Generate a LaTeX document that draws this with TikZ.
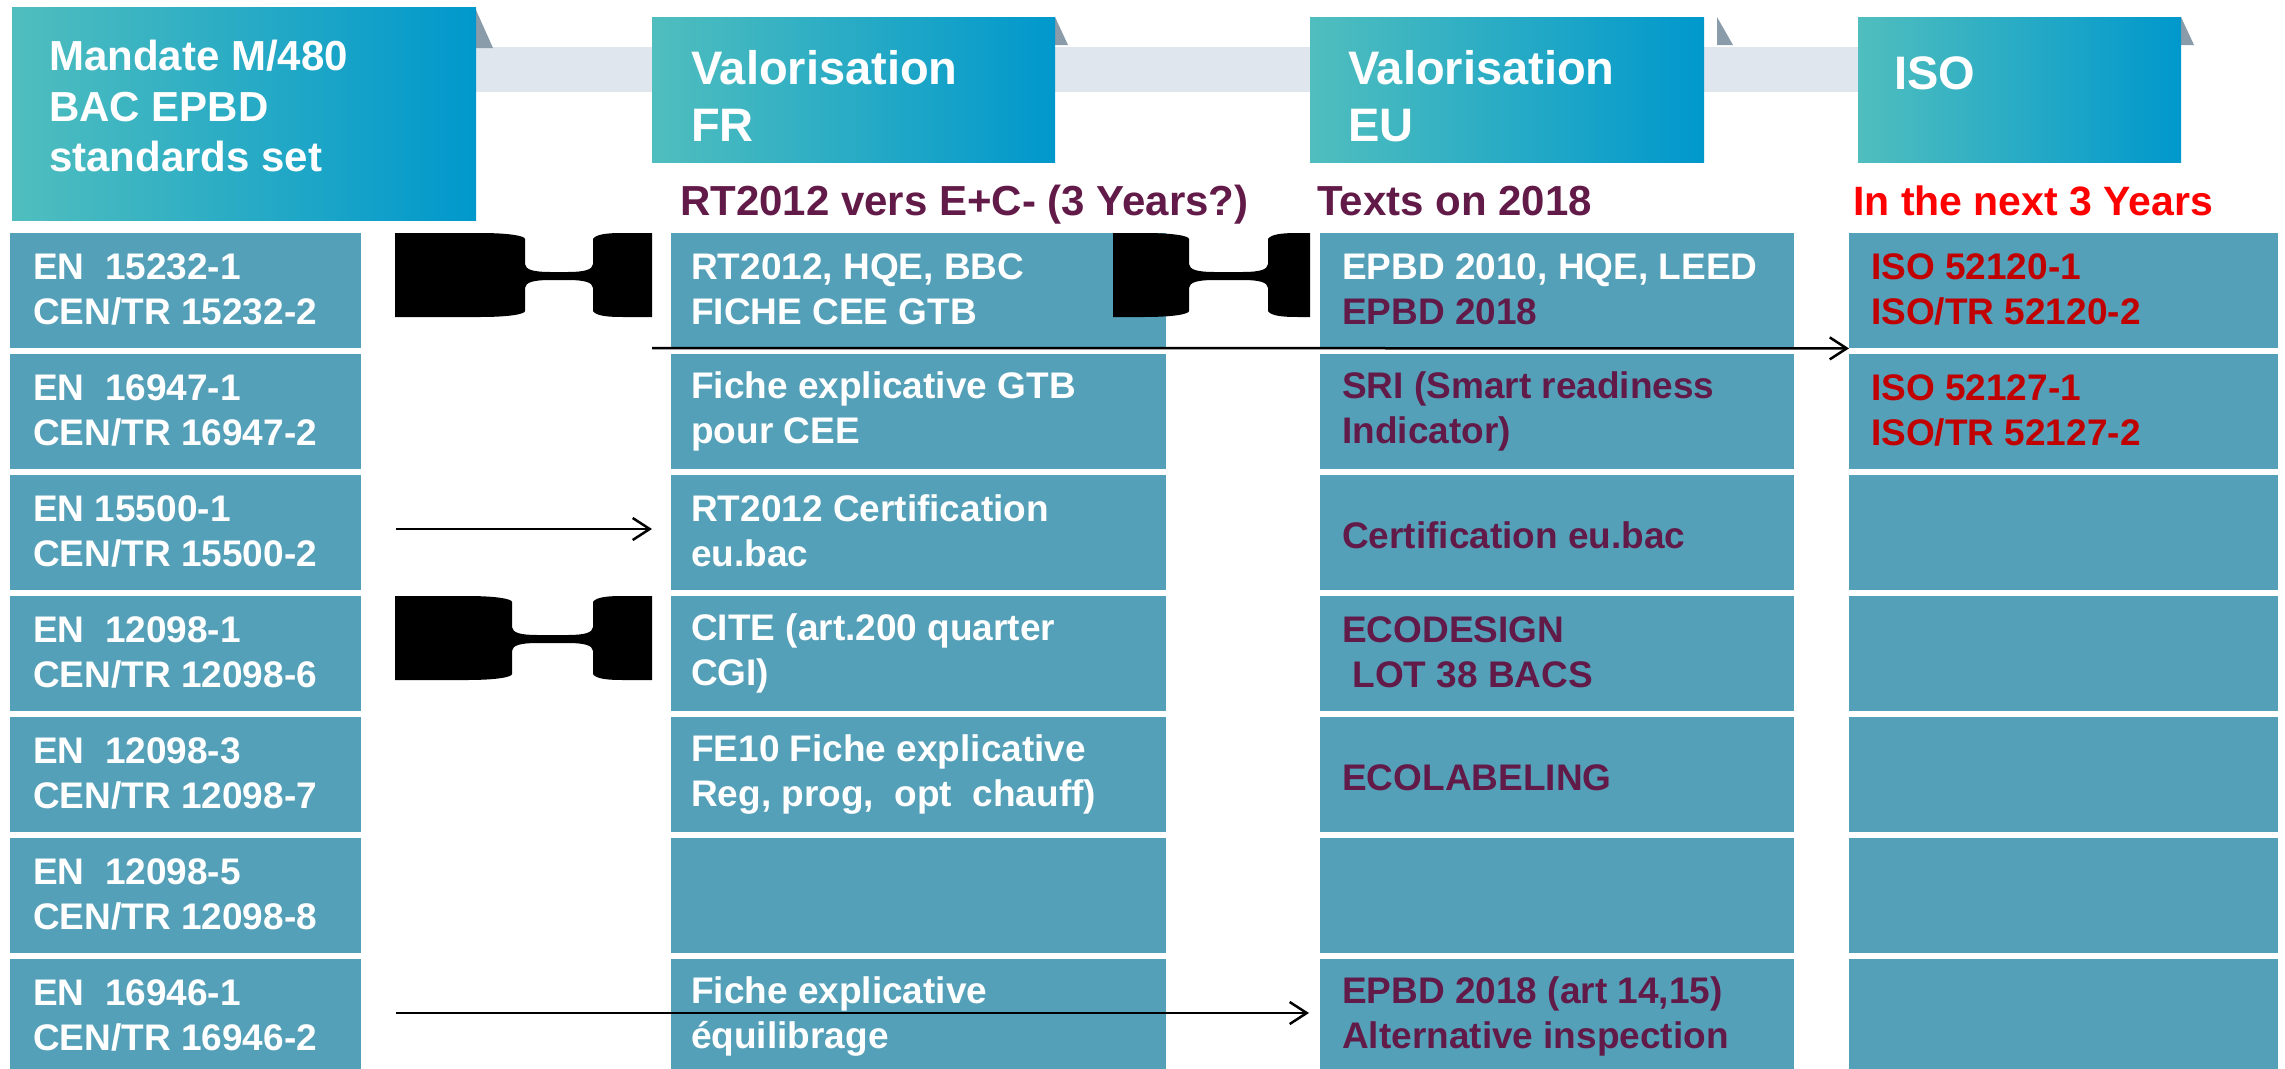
\documentclass[tikz,border=0pt]{standalone}
\usepackage{fontspec}
\setmainfont{Liberation Sans}
\usetikzlibrary{arrows.meta, calc}

\definecolor{cellblue}{RGB}{84,160,184}
\definecolor{plum}{RGB}{98,27,72}
\definecolor{isored}{RGB}{192,0,0}
\definecolor{bandgrey}{RGB}{223,230,237}
\definecolor{tipgrey}{RGB}{138,155,170}
\definecolor{hdleft}{RGB}{80,190,190}
\definecolor{hdmid}{RGB}{0,155,152}
\definecolor{hdright}{RGB}{0,152,204}

\newcommand{\topstrut}{\rule{0pt}{36pt}}
\newcommand{\botstrut}{\rule[-4pt]{0pt}{4pt}}

% black double link: outer left x, inner left x, inner right x, outer right x, top y
\newcommand{\bonelink}[5]{%
  \fill (#1,#5) -- (#2-45,#5) .. controls (#2-15,#5) and (#2,#5+3) .. (#2,#5+6)
    -- (#2,#5+31) .. controls (#2,#5+37) and (#2+10,#5+39) .. (#2+25,#5+39)
    -- (#3-25,#5+39) .. controls (#3-10,#5+39) and (#3,#5+37) .. (#3,#5+31)
    -- (#3,#5+6) .. controls (#3+3,#5+1) and (#3+15,#5) .. (#3+30,#5)
    -- (#4,#5) -- (#4,#5+84) -- (#3+30,#5+84)
    .. controls (#3+15,#5+84) and (#3+3,#5+83) .. (#3,#5+78)
    -- (#3,#5+55) .. controls (#3,#5+49) and (#3-10,#5+47) .. (#3-25,#5+47)
    -- (#2+25,#5+47) .. controls (#2+10,#5+47) and (#2,#5+49) .. (#2,#5+55)
    -- (#2,#5+78) .. controls (#2,#5+81) and (#2-15,#5+84) .. (#2-45,#5+84)
    -- (#1,#5+84) -- cycle;}

\tikzset{
  head/.style={anchor=north west, inner sep=0pt, left color=hdleft, middle color=hdmid, right color=hdright},
  headtext/.style={anchor=north west, inner sep=0pt, align=left, text=white,
    font=\fontsize{47}{57}\selectfont\bfseries, execute at begin node=\rule{0pt}{40pt}},
  subhead/.style={anchor=base west, inner sep=0pt, text=plum, font=\fontsize{42}{50}\selectfont\bfseries},
  cell/.style={anchor=north west, inner sep=0pt, fill=cellblue, minimum height=115pt},
  celltext/.style={anchor=west, inner sep=0pt, align=left, font=\fontsize{37}{45}\selectfont\bfseries,
    execute at begin node=\topstrut, execute at end node=\botstrut},
  link/.style={->, line width=2.5pt}
}

\begin{document}
\begin{tikzpicture}[x=1pt, y=-1pt, >={Straight Barb[length=17pt,width=22pt]}]
  \useasboundingbox (0,0) rectangle (2285,1068);
  \clip (0,0) rectangle (2285,1068);

  % timeline band
  \fill[bandgrey] (476,47) rectangle (1858,92);
  \fill[tipgrey] (476,10) -- (476,48) -- (493,48) -- cycle;
  \fill[tipgrey] (1055,17) -- (1055,45) -- (1068,45) -- cycle;
  \fill[tipgrey] (1717,17) -- (1717,45) -- (1733,45) -- cycle;
  \fill[tipgrey] (2181,17) -- (2181,45) -- (2194,45) -- cycle;

  \node[head, minimum width=464pt, minimum height=213pt] (hdm) at (12,7) {};
  \node[head, minimum width=403pt, minimum height=145pt] (hdfr) at (652,17) {};
  \node[head, minimum width=394pt, minimum height=145pt] (hdeu) at (1310,17) {};
  \node[head, minimum width=323pt, minimum height=145pt] (hdiso) at (1858,17) {};

  \node[headtext, font=\fontsize{42}{50.5}\selectfont\bfseries] (hdmt) at (49,40) {Mandate M/480\\BAC EPBD\\standards set};
  \node[headtext] (hdfrt) at (691,50) {Valorisation\\FR};
  \node[headtext] (hdeut) at (1348,50) {Valorisation\\EU};
  \node[headtext] (hdisot) at (1894,49) {ISO};

  \node[subhead] (subfr) at (680,215) {RT2012 vers E+C- (3 Years?)};
  \node[subhead] (subeu) at (1317,215) {Texts on 2018};
  \node[subhead, text=red, font=\fontsize{41}{49}\selectfont\bfseries] (subiso) at (1853,215) {In the next 3 Years};

  % one row per standard
  \foreach \r/\ta/\tb/\tc/\td in {
      1/{EN\ \ 15232-1\\CEN/TR 15232-2}/{RT2012, HQE, BBC\\FICHE CEE GTB}/{\textcolor{white}{EPBD 2010, HQE, LEED}\\EPBD 2018}/{ISO 52120-1\\ISO/TR 52120-2},
      2/{EN\ \ 16947-1\\CEN/TR 16947-2}/{Fiche explicative GTB\\pour CEE}/{SRI (Smart readiness\\Indicator)}/{ISO 52127-1\\ISO/TR 52127-2},
      3/{EN 15500-1\\CEN/TR 15500-2}/{RT2012 Certification\\eu.bac}/{Certification eu.bac}/{},
      4/{EN\ \ 12098-1\\CEN/TR 12098-6}/{CITE (art.200 quarter\\CGI)}/{ECODESIGN\\\ LOT 38 BACS}/{},
      5/{EN\ \ 12098-3\\CEN/TR 12098-7}/{FE10 Fiche explicative\\Reg, prog,\ \ opt\ \ chauff)}/{ECOLABELING}/{},
      6/{EN\ \ 12098-5\\CEN/TR 12098-8}/{}/{}/{},
      7/{EN\ \ 16946-1\\CEN/TR 16946-2}/{Fiche explicative\\équilibrage}/{EPBD 2018 (art 14,15)\\Alternative inspection}/{}} {
    \pgfmathsetmacro{\rowy}{233+121*(\r-1)}
    \node[cell, minimum width=351pt] (c1r\r) at (10,\rowy) {};
    \node[cell, minimum width=495pt] (c2r\r) at (671,\rowy) {};
    \node[cell, minimum width=474pt] (c3r\r) at (1320,\rowy) {};
    \node[cell, minimum width=429pt] (c4r\r) at (1849,\rowy) {};
    \node[celltext, text=white] (t1r\r) at ($(c1r\r.west)+(23,0)$) {\ta};
    \node[celltext, text=white] (t2r\r) at ($(c2r\r.west)+(20,0)$) {\tb};
    \node[celltext, text=plum] (t3r\r) at ($(c3r\r.west)+(22,0)$) {\tc};
    \node[celltext, text=isored] (t4r\r) at ($(c4r\r.west)+(22,0)$) {\td};
  }

  \bonelink{395}{525}{593}{652}{233}
  \bonelink{1113}{1189}{1268}{1310}{233}
  \bonelink{395}{512}{593}{652}{596}

  \coordinate (a1) at (652,348);
  \coordinate (a2) at (396,529);
  \coordinate (b2) at (652,529);
  \coordinate (a3) at (396,1013);
  \coordinate (b3) at (1309,1013);
  \draw[link] (a1) -- (c4r1.south west);
  \draw[link] (a2) -- (b2);
  \draw[link] (a3) -- (b3);
\end{tikzpicture}
\end{document}
